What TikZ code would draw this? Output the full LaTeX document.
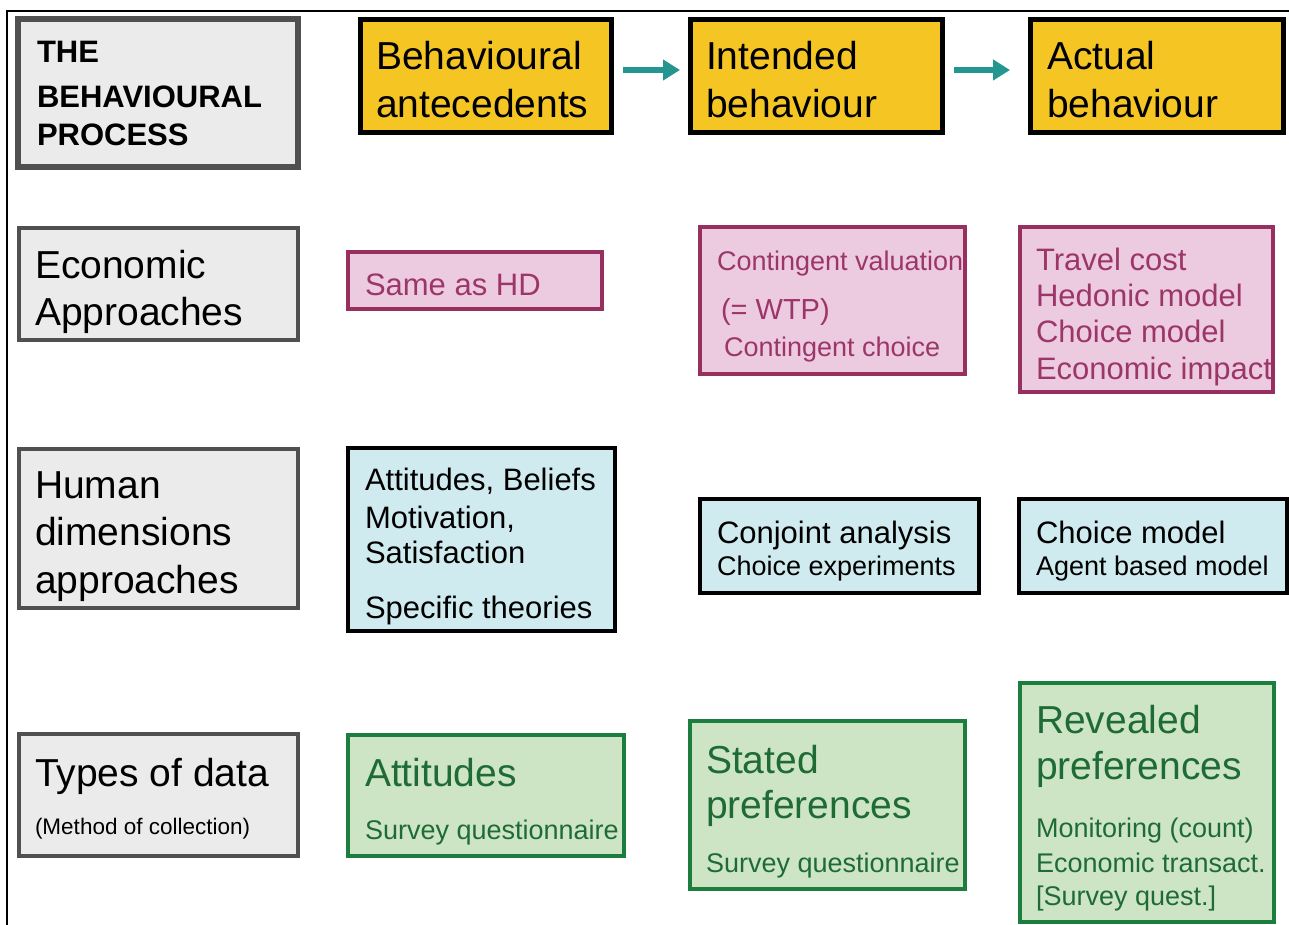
\documentclass[tikz,border=0pt]{standalone}
\usepackage{fontspec}
\setmainfont{Liberation Sans}
\usetikzlibrary{arrows.meta}
\definecolor{grayfill}{HTML}{EBEBEB}
\definecolor{grayline}{HTML}{505050}
\definecolor{yellowfill}{HTML}{F5C623}
\definecolor{pinkfill}{HTML}{ECCAE0}
\definecolor{pinkline}{HTML}{98305F}
\definecolor{pinktext}{HTML}{9C3669}
\definecolor{bluefill}{HTML}{D0EBEF}
\definecolor{greenfill}{HTML}{CDE5C4}
\definecolor{greenline}{HTML}{1B7D3E}
\definecolor{greentext}{HTML}{1E6B35}
\definecolor{teal}{HTML}{22968F}
\tikzset{
  boxbase/.style={rectangle, inner sep=0pt},
  graybox/.style={boxbase, fill=grayfill, draw=grayline, line width=4pt},
  titlebox/.style={boxbase, fill=grayfill, draw=grayline, line width=6pt},
  yellowbox/.style={boxbase, fill=yellowfill, draw=black, line width=5pt},
  pinkbox/.style={boxbase, fill=pinkfill, draw=pinkline, line width=4pt},
  bluebox/.style={boxbase, fill=bluefill, draw=black, line width=4pt},
  greenbox/.style={boxbase, fill=greenfill, draw=greenline, line width=4pt},
  txt/.style={anchor=base west, inner sep=0pt, outer sep=0pt},
  big/.style={txt, font=\fontsize{39}{47}\selectfont},
  mid/.style={txt, font=\fontsize{31}{37}\selectfont},
  small/.style={txt, font=\fontsize{27}{32}\selectfont},
  ttl/.style={txt, font=\fontsize{31}{37}\selectfont\bfseries},
  flow/.style={draw=teal, line width=6pt, -{Triangle[length=17pt,width=20pt]}, shorten <=9pt},
}
\begin{document}
\begin{tikzpicture}[x=1pt,y=-1pt]
\useasboundingbox (0,0) rectangle (1289,925);
% frame
\coordinate (fb) at (7,925);
\coordinate (fc) at (7,11);
\coordinate (fr) at (1289,11);
\draw[line width=2pt] (fb) -- (fc) -- (fr);

% row 1
\node[titlebox, minimum width=280pt, minimum height=148pt] (title) at (158,93) {};
\node[ttl] (t1) at (37,63) {THE};
\node[ttl] (t2) at (37,108) {BEHAVIOURAL};
\node[ttl] (t3) at (37,146) {PROCESS};

\node[yellowbox, minimum width=251pt, minimum height=113pt] (ante) at (486,76) {};
\node[big] (a1) at (376,70) {Behavioural};
\node[big] (a2) at (376,118) {antecedents};

\node[yellowbox, minimum width=252pt, minimum height=113pt] (intd) at (816.5,76) {};
\node[big] (i1) at (706,70) {Intended};
\node[big] (i2) at (706,118) {behaviour};

\node[yellowbox, minimum width=253pt, minimum height=113pt] (actl) at (1157,76) {};
\node[big] (c1) at (1047,70) {Actual};
\node[big] (c2) at (1047,118) {behaviour};

\draw[flow, shorten >=8pt] ([yshift=6pt]ante.east) -- ([yshift=6pt]intd.west);
\draw[flow, shorten >=18pt] ([yshift=6pt]intd.east) -- ([yshift=6pt]actl.west);

% row 2
\node[graybox, minimum width=279pt, minimum height=112pt] (econ) at (158.5,284) {};
\node[big] (e1) at (35,278) {Economic};
\node[big] (e2) at (35,325) {Approaches};

\node[pinkbox, minimum width=254pt, minimum height=57pt] (same) at (475,280.5) {};
\node[mid, text=pinktext] (s1) at (365,295) {Same as HD};

\node[pinkbox, minimum width=265pt, minimum height=147pt] (cont) at (832.5,300.5) {};
\node[small, text=pinktext] (cv1) at (717,270) {Contingent valuation};
\node[txt, font=\fontsize{29}{34}\selectfont, text=pinktext] (cv2) at (721,319) {(= WTP)};
\node[small, text=pinktext] (cv3) at (724,356) {Contingent choice};

\node[pinkbox, minimum width=253pt, minimum height=165pt] (trav) at (1146.5,309.5) {};
\node[mid, text=pinktext] (tr1) at (1036,270) {Travel cost};
\node[mid, text=pinktext] (tr2) at (1036,306) {Hedonic model};
\node[mid, text=pinktext] (tr3) at (1036,342) {Choice model};
\node[mid, text=pinktext] (tr4) at (1036,379) {Economic impact};

% row 3
\node[graybox, minimum width=279pt, minimum height=159pt] (human) at (158.5,528.5) {};
\node[big] (h1) at (35,498) {Human};
\node[big] (h2) at (35,545) {dimensions};
\node[big] (h3) at (35,593) {approaches};

\node[bluebox, minimum width=267pt, minimum height=183pt] (attb) at (481.5,539.5) {};
\node[mid] (ab1) at (365,490) {Attitudes, Beliefs};
\node[mid] (ab2) at (365,528) {Motivation,};
\node[mid] (ab3) at (365,563) {Satisfaction};
\node[mid] (ab4) at (365,618) {Specific theories};

\node[bluebox, minimum width=279pt, minimum height=94pt] (conj) at (839.5,546) {};
\node[mid] (cj1) at (717,543) {Conjoint analysis};
\node[small] (cj2) at (717,575) {Choice experiments};

\node[bluebox, minimum width=268pt, minimum height=94pt] (chm) at (1153,546) {};
\node[mid] (cm1) at (1036,543) {Choice model};
\node[small] (cm2) at (1036,575) {Agent based model};

% row 4
\node[graybox, minimum width=279pt, minimum height=122pt] (types) at (158.5,795) {};
\node[big] (ty1) at (35,786) {Types of data};
\node[txt, font=\fontsize{22.5}{27}\selectfont] (ty2) at (35,834) {(Method of collection)};

\node[greenbox, minimum width=276pt, minimum height=121pt] (attg) at (486,795.5) {};
\node[big, text=greentext] (ag1) at (365,786) {Attitudes};
\node[small, text=greentext] (ag2) at (365,839) {Survey questionnaire};

\node[greenbox, minimum width=275pt, minimum height=168pt] (stat) at (827.5,805) {};
\node[big, text=greentext] (st1) at (706,773) {Stated};
\node[big, text=greentext] (st2) at (706,818) {preferences};
\node[small, text=greentext] (st3) at (706,872) {Survey questionnaire};

\node[greenbox, minimum width=254pt, minimum height=239pt] (rev) at (1147,802.5) {};
\node[big, text=greentext] (rv1) at (1036,733) {Revealed};
\node[big, text=greentext] (rv2) at (1036,779) {preferences};
\node[small, text=greentext] (rv3) at (1036,837) {Monitoring (count)};
\node[small, text=greentext] (rv4) at (1036,872) {Economic transact.};
\node[small, text=greentext] (rv5) at (1036,905) {[Survey quest.]};
\end{tikzpicture}
\end{document}
